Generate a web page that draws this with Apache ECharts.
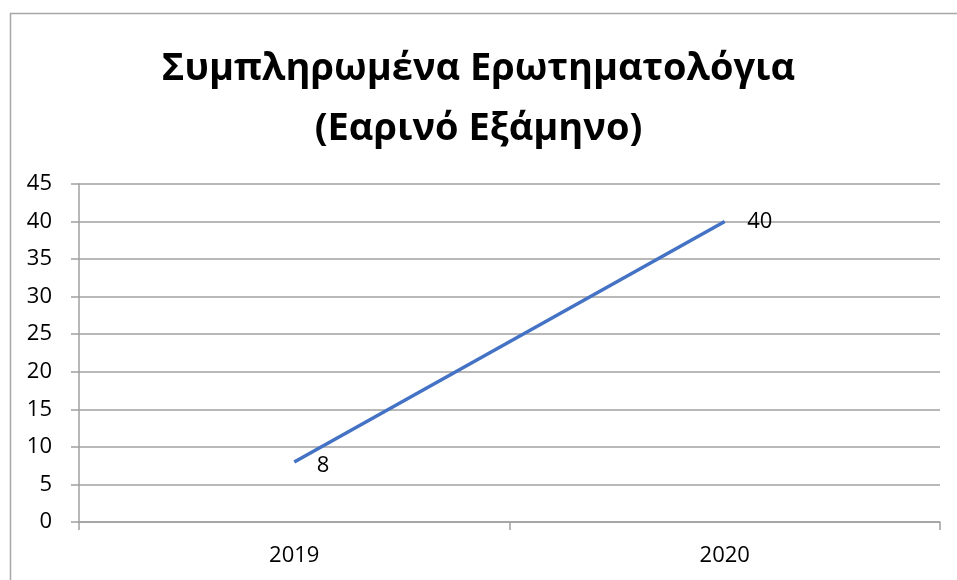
<!DOCTYPE html>
<html><head><meta charset="utf-8">
<script src="https://cdn.jsdelivr.net/npm/echarts@6/dist/echarts.min.js"></script>
<style>html,body{margin:0;padding:0;background:#fff}#c{width:957px;height:580px}</style>
</head><body><div id="c"></div>
<script>
const titleLines = ['Συμπληρωμένα Ερωτηματολόγια', '(Εαρινό Εξάμηνο)'];
const categories = ['2019', '2020'];
const values = [8, 40];
const yMin = 0, yMax = 45, yInterval = 5;

const chart = echarts.init(document.getElementById('c'));
chart.setOption({
  animation: false,
  backgroundColor: '#fff',
  title: {
    text: titleLines.join('\n'),
    left: 'center', top: 34,
    textStyle: { fontFamily: 'Open Sans', fontWeight: 'bold', fontSize: 38, lineHeight: 60, color: '#000' }
  },
  graphic: [{
    type: 'rect', shape: { x: 10.5, y: 13.5, width: 1000, height: 1000 },
    style: { fill: 'none', stroke: '#a6a6a6', lineWidth: 1.5 }, silent: true
  }],
  grid: { left: 79, right: 17, top: 184, bottom: 58 },
  xAxis: {
    type: 'category', data: categories, boundaryGap: true,
    axisLine: { lineStyle: { color: '#a0a0a0', width: 1.5 } },
    axisTick: { show: true, length: 8, lineStyle: { color: '#a0a0a0', width: 1.5 } },
    axisLabel: { color: '#000', fontFamily: 'Open Sans', fontSize: 22, margin: 23 }
  },
  yAxis: {
    type: 'value', min: yMin, max: yMax, interval: yInterval,
    axisLine: { show: true, lineStyle: { color: '#a0a0a0', width: 1.5 } },
    axisTick: { show: true, length: 8, lineStyle: { color: '#a0a0a0', width: 1.5 } },
    splitLine: { lineStyle: { color: '#a0a0a0', width: 1.5 } },
    axisLabel: { color: '#000', fontFamily: 'Open Sans', fontSize: 22, margin: 27 }
  },
  series: [{
    type: 'line',
    data: values.map((v, i) => i === 0 ? { value: v, label: { offset: [0, 4] } } : v),
    symbol: 'circle', symbolSize: 1, showSymbol: true,
    itemStyle: { color: 'rgba(68,114,196,0)' },
    lineStyle: { color: '#4472C4', width: 3.5 },
    label: { show: true, position: 'right', distance: 22, color: '#000', fontFamily: 'Open Sans', fontSize: 22 },
  }]
});
</script></body></html>
